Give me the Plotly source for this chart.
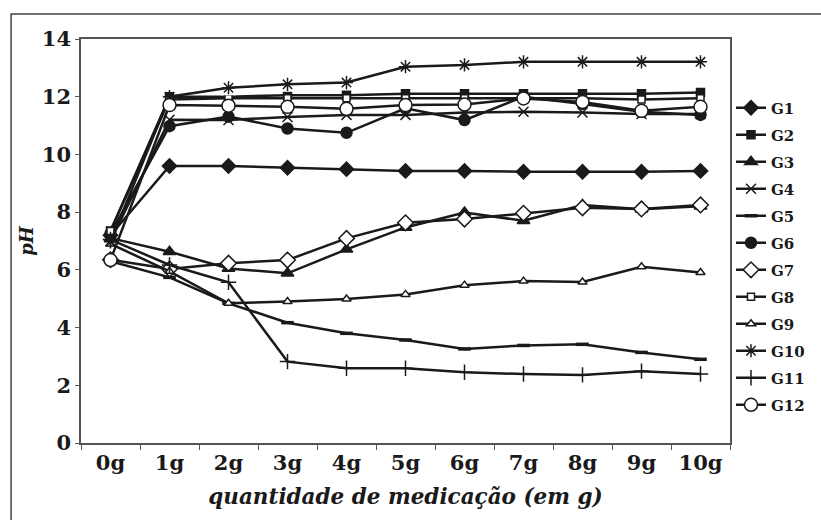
import plotly.graph_objects as go

categories = ["0g", "1g", "2g", "3g", "4g", "5g", "6g", "7g", "8g", "9g", "10g"]

G1 = [7.2, 9.6, 9.6, 9.54, 9.49, 9.43, 9.43, 9.4, 9.4, 9.4, 9.43]
G2 = [7.35, 12.0, 12.0, 12.05, 12.05, 12.1, 12.1, 12.1, 12.1, 12.1, 12.15]
G3 = [7.1, 6.63, 6.05, 5.88, 6.71, 7.47, 7.99, 7.7, 8.25, 8.1, 8.2]
G4 = [7.0, 11.2, 11.19, 11.3, 11.37, 11.37, 11.45, 11.48, 11.45, 11.4, 11.4]
G5 = [6.3, 5.74, 4.84, 4.17, 3.8, 3.57, 3.26, 3.38, 3.42, 3.14, 2.9]
G6 = [7.25, 10.98, 11.31, 10.9, 10.75, 11.6, 11.19, 12.0, 11.75, 11.48, 11.37]
G7 = [6.35, 6.03, 6.23, 6.34, 7.09, 7.63, 7.76, 7.96, 8.15, 8.11, 8.25]
G8 = [7.35, 11.9, 11.95, 11.95, 11.95, 11.95, 11.95, 11.95, 11.95, 11.9, 11.95]
G9 = [6.9, 5.95, 4.84, 4.9, 4.99, 5.15, 5.47, 5.61, 5.58, 6.11, 5.91]
G10 = [6.97, 12.0, 12.31, 12.43, 12.49, 13.04, 13.1, 13.21, 13.21, 13.21, 13.21]
G11 = [7.05, 6.17, 5.57, 2.82, 2.59, 2.59, 2.45, 2.39, 2.36, 2.49, 2.39]
G12 = [6.34, 11.71, 11.69, 11.65, 11.58, 11.71, 11.73, 11.94, 11.82, 11.51, 11.65]

y_ticks = [0, 2, 4, 6, 8, 10, 12, 14]

FONT = "DejaVu Serif"
INK = "#1a1a1a"

series = [
    ("G1", G1, "diamond", 11, INK),
    ("G2", G2, "square", 8, INK),
    ("G3", G3, "triangle-up", 11, INK),
    ("G4", G4, "x-thin-open", 10, INK),
    ("G5", G5, "line-ew-open", 9, INK),
    ("G6", G6, "circle", 11, INK),
    ("G7", G7, "diamond", 12, "white"),
    ("G8", G8, "square", 7, "white"),
    ("G9", G9, "triangle-up", 8, "white"),
    ("G10", G10, "asterisk-open", 11, INK),
    ("G11", G11, "cross-thin-open", 11, INK),
    ("G12", G12, "circle", 13, "white"),
]

fig = go.Figure()
for name, vals, sym, size, fill in series:
    if name == "G10":
        # white backing behind the asterisks (gaps in the line around markers)
        fig.add_trace(go.Scatter(
            x=categories[2:], y=vals[2:], mode="markers", legendgroup=name,
            marker=dict(symbol="square", size=15, color="white", line=dict(width=0)),
            showlegend=False, hoverinfo="skip"))
    lw = 3.5 if sym == "line-ew-open" else 1.5
    fig.add_trace(go.Scatter(
        x=categories, y=vals, name=name, mode="lines+markers",
        legendgroup=name,
        line=dict(color=INK, width=2.5),
        marker=dict(symbol=sym, size=size, color=fill,
                    line=dict(color=INK, width=lw)),
    ))

fig.update_layout(
    width=821, height=520,
    paper_bgcolor="white", plot_bgcolor="white",
    margin=dict(l=81, r=90, t=39, b=77),
    font=dict(family=FONT, color=INK),
    legend=dict(
        x=1.0, xanchor="left", y=0.87, yanchor="top",
        font=dict(family=FONT, size=15, color=INK, weight="bold"),
        traceorder="grouped", tracegroupgap=4.5,
        itemwidth=30, bgcolor="rgba(0,0,0,0)",
    ),
    shapes=[dict(type="rect", xref="paper", yref="paper",
                 x0=-0.1077, y0=-0.21, x1=1.15, y1=1.0619,
                 line=dict(color="#444", width=1.5), layer="below")],
)

fig.update_xaxes(
    type="category", categoryorder="array", categoryarray=categories,
    range=[-0.5, 10.5], automargin=False,
    showline=True, linecolor="#555", linewidth=1.5, mirror=True,
    ticks="outside", tickson="boundaries", ticklen=5, tickcolor="#555",
    showgrid=False, zeroline=False,
    tickfont=dict(family=FONT, size=21, color=INK, weight="bold"),
    title=dict(text="<b><i>quantidade de medicação (em g)</i></b>",
               font=dict(family=FONT, size=21.5, color=INK), standoff=15),
)
fig.update_yaxes(
    range=[0, 14], tickvals=y_ticks, automargin=False,
    showline=True, linecolor="#555", linewidth=1.5, mirror=True,
    ticks="outside", ticklen=4, tickcolor="#555",
    showgrid=False, zeroline=False,
    tickfont=dict(family=FONT, size=21, color=INK, weight="bold"),
    title=dict(text="<b><i>pH</i></b>",
               font=dict(family=FONT, size=18, color=INK), standoff=4),
)

fig.write_html("out.html", config={"displayModeBar": False},
               post_script="document.body.style.margin='0';")
